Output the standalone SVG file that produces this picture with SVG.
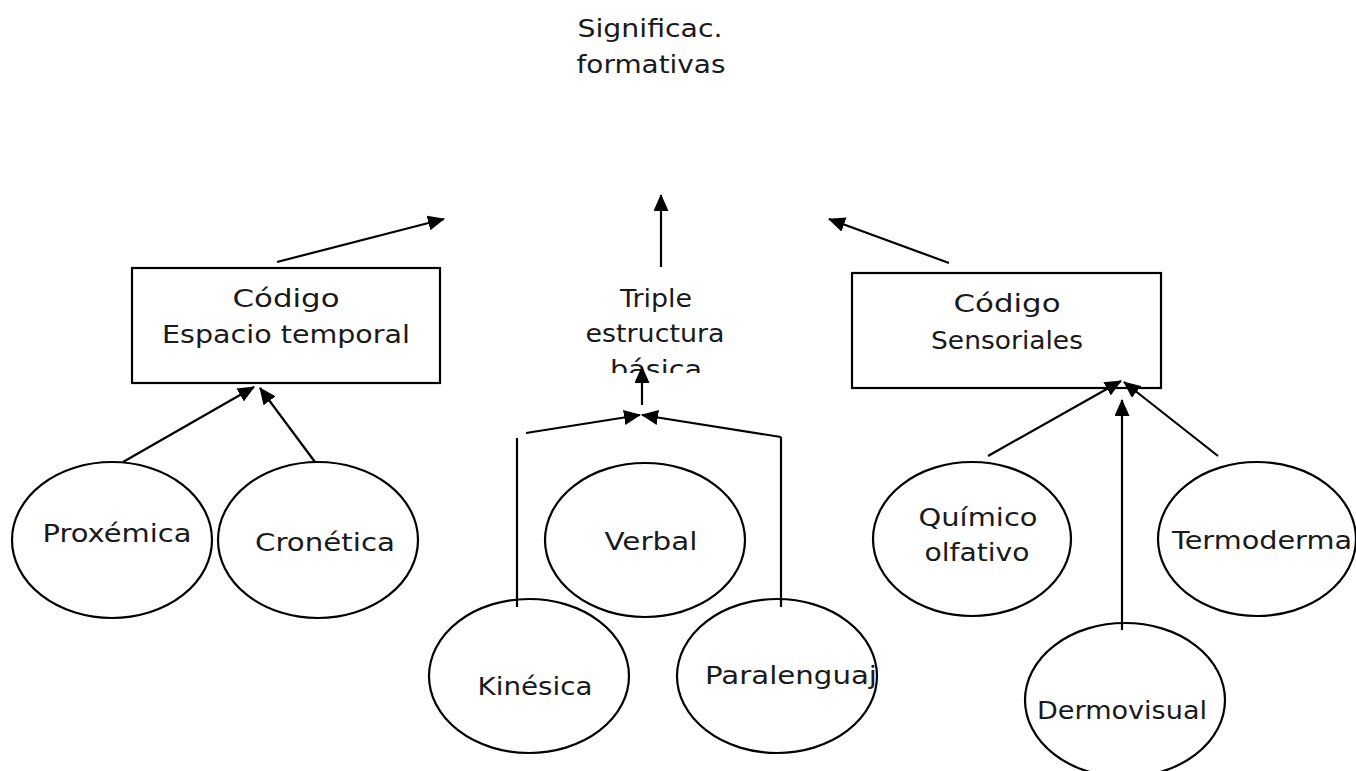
<svg xmlns="http://www.w3.org/2000/svg" width="1356" height="771" viewBox="0 0 1356 771">
<style>
text{font-family:"DejaVu Sans","Liberation Sans",sans-serif;font-size:25px;fill:#1a1a1a;text-anchor:middle}
.shape{fill:#fff;stroke:#000;stroke-width:2.2}
.conn line{stroke:#000;stroke-width:2.2;fill:none}
.arr{marker-end:url(#ah)}
</style>
<defs>
<marker id="ah" viewBox="0 0 17 15" refX="16" refY="7.5" markerWidth="17" markerHeight="15" markerUnits="userSpaceOnUse" orient="auto">
<path d="M0,0 L17,7.5 L0,15 z" fill="#000"/>
</marker>
<clipPath id="clipTriple"><rect x="560" y="280" width="200" height="93"/></clipPath>
</defs>
<rect width="1356" height="771" fill="#fff"/>

<g id="significac">
<text x="650" y="37" textLength="145" lengthAdjust="spacingAndGlyphs">Significac.</text>
<text x="651" y="73" textLength="149" lengthAdjust="spacingAndGlyphs">formativas</text>
</g>

<g id="codigo-espacio">
<rect class="shape" x="132" y="268" width="308" height="115"/>
<text x="286" y="307" textLength="107" lengthAdjust="spacingAndGlyphs">Código</text>
<text x="286" y="343" textLength="248" lengthAdjust="spacingAndGlyphs">Espacio temporal</text>
</g>

<g id="triple" clip-path="url(#clipTriple)">
<text x="656" y="307" textLength="72" lengthAdjust="spacingAndGlyphs">Triple</text>
<text x="655" y="342" textLength="139" lengthAdjust="spacingAndGlyphs">estructura</text>
<text x="656" y="378" textLength="92" lengthAdjust="spacingAndGlyphs">básica</text>
</g>

<g id="codigo-sensoriales">
<rect class="shape" x="852" y="273" width="309" height="115"/>
<text x="1007" y="312" textLength="107" lengthAdjust="spacingAndGlyphs">Código</text>
<text x="1007" y="349" textLength="152" lengthAdjust="spacingAndGlyphs">Sensoriales</text>
</g>

<g id="proxemica">
<ellipse class="shape" cx="112" cy="540" rx="100" ry="78"/>
<text x="117" y="542" textLength="149" lengthAdjust="spacingAndGlyphs">Proxémica</text>
</g>

<g id="cronetica">
<ellipse class="shape" cx="318" cy="540" rx="100" ry="78"/>
<text x="325" y="551" textLength="140" lengthAdjust="spacingAndGlyphs">Cronética</text>
</g>

<g id="verbal">
<ellipse class="shape" cx="645" cy="540" rx="100" ry="77"/>
<text x="651" y="550" textLength="93" lengthAdjust="spacingAndGlyphs">Verbal</text>
</g>

<g id="kinesica">
<ellipse class="shape" cx="529" cy="676" rx="100" ry="77"/>
<text x="535" y="695" textLength="115" lengthAdjust="spacingAndGlyphs">Kinésica</text>
</g>

<g id="paralenguaj">
<ellipse class="shape" cx="777" cy="676" rx="100" ry="77"/>
<text x="791" y="684" textLength="172" lengthAdjust="spacingAndGlyphs">Paralenguaj</text>
</g>

<g id="quimico">
<ellipse class="shape" cx="972" cy="539" rx="99" ry="77"/>
<text x="978" y="526" textLength="119" lengthAdjust="spacingAndGlyphs">Químico</text>
<text x="977" y="561" textLength="105" lengthAdjust="spacingAndGlyphs">olfativo</text>
</g>

<g id="termoderma">
<ellipse class="shape" cx="1257" cy="539" rx="99" ry="77"/>
<text x="1262" y="549" textLength="180" lengthAdjust="spacingAndGlyphs">Termoderma</text>
</g>

<g id="dermovisual">
<ellipse class="shape" cx="1125" cy="700" rx="100" ry="77"/>
<text x="1122" y="719" textLength="170" lengthAdjust="spacingAndGlyphs">Dermovisual</text>
</g>

<g id="connectors" class="conn">
<line class="arr" x1="277" y1="262" x2="444" y2="219"/>
<line class="arr" x1="661" y1="267" x2="661" y2="195"/>
<line class="arr" x1="949" y1="263" x2="829" y2="219"/>
<line class="arr" x1="642" y1="405" x2="642" y2="367"/>
<line class="arr" x1="526" y1="433" x2="640" y2="415"/>
<line class="arr" x1="781" y1="437" x2="642" y2="415"/>
<line x1="517" y1="438" x2="517" y2="607"/>
<line x1="781" y1="437" x2="781" y2="607"/>
<line class="arr" x1="123" y1="462" x2="254" y2="387"/>
<line class="arr" x1="315" y1="462" x2="260" y2="388"/>
<line class="arr" x1="988" y1="456" x2="1121" y2="381"/>
<line class="arr" x1="1218" y1="456" x2="1124" y2="382"/>
<line class="arr" x1="1122" y1="630" x2="1122" y2="400"/>
</g>
</svg>
